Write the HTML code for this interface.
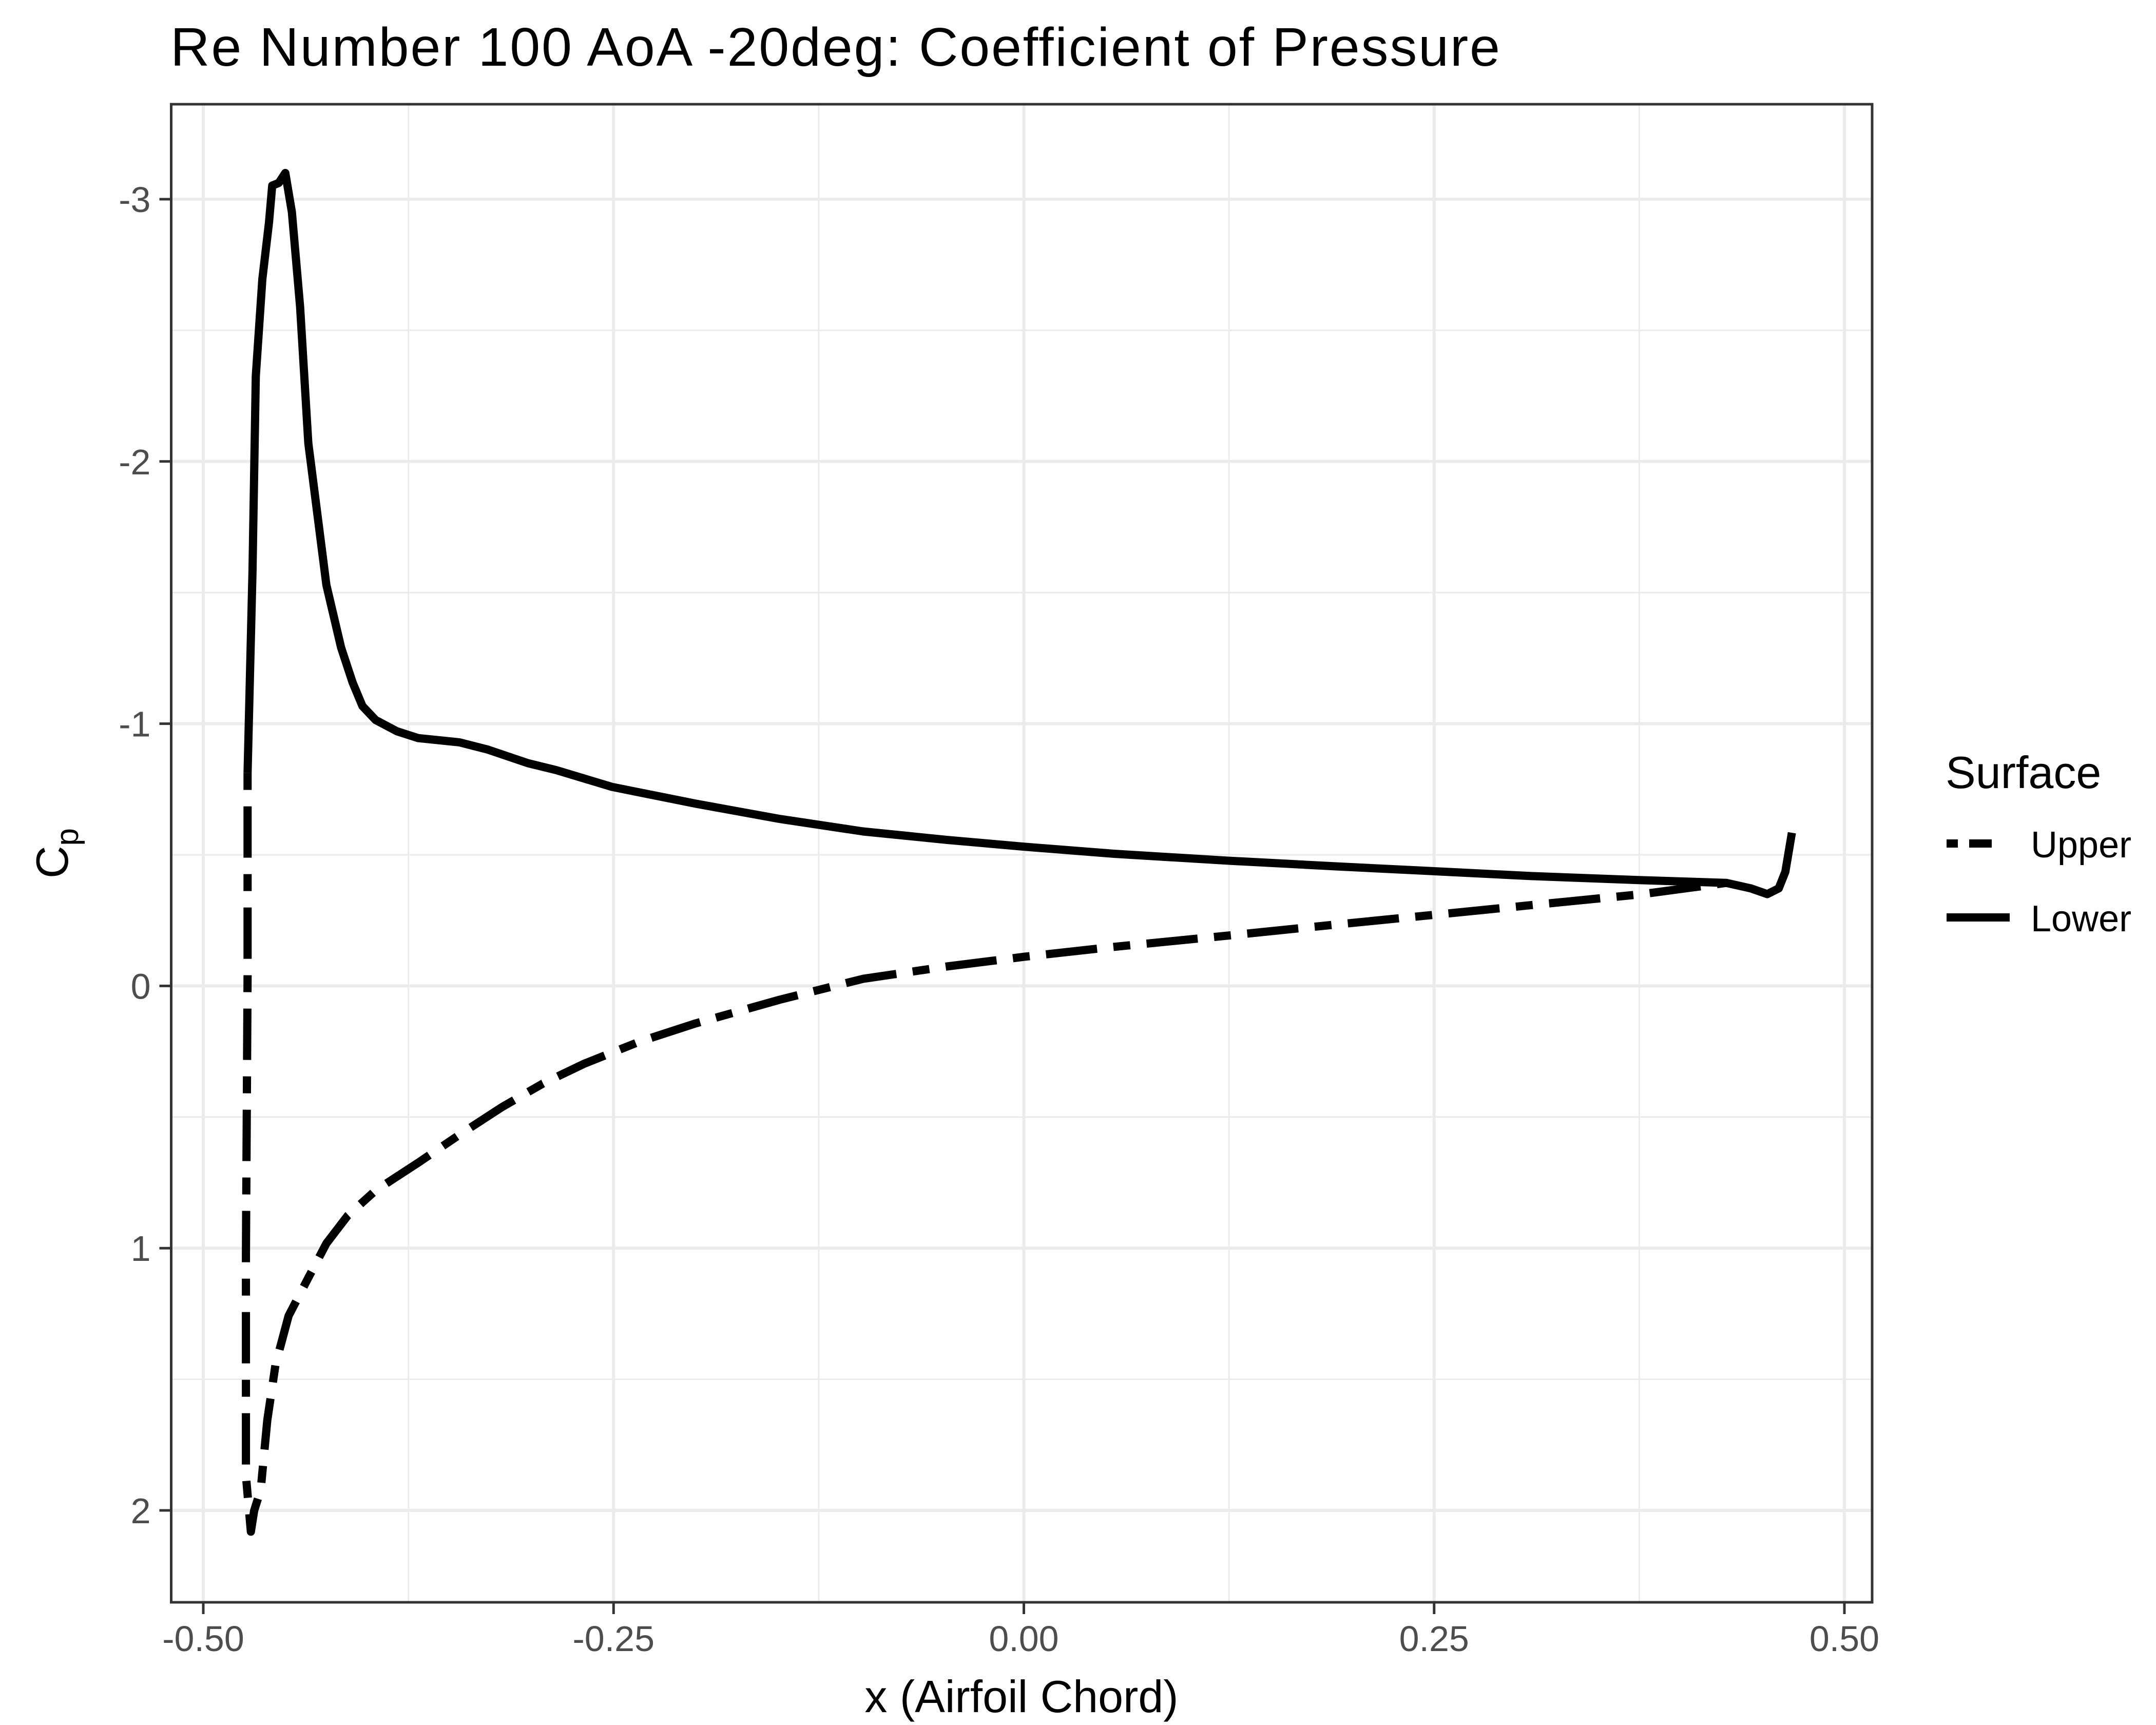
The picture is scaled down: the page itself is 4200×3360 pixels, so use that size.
<!DOCTYPE html>
<html><head><meta charset="utf-8"><style>
html,body{margin:0;padding:0;background:#fff}
svg{display:block}
text{font-family:"Liberation Sans",Arial,sans-serif}
</style></head><body>
<svg id="chart" width="4200" height="3360" viewBox="0 0 4200 3360" xmlns="http://www.w3.org/2000/svg">
<rect width="4200" height="3360" fill="#fff"/>
<g id="grid"></g>
<g id="series"></g>
<rect x="333.5" y="203" width="3313.5" height="2918" fill="none" stroke="#333" stroke-width="5"/>
<g id="axes"></g>
<text x="332" y="128" font-size="106" fill="#000" textLength="2590">Re Number 100 AoA -20deg: Coefficient of Pressure</text>
<text x="1990" y="3335" font-size="88" text-anchor="middle" fill="#000">x (Airfoil Chord)</text>
<text transform="translate(132,1662) rotate(-90)" font-size="88" text-anchor="middle" fill="#000">C<tspan font-size="62" dy="20">p</tspan></text>
<g>
<text x="3790" y="1535" font-size="88" fill="#000">Surface</text>
<line x1="3792" x2="3915" y1="1643" y2="1643" stroke="#000" stroke-width="16" stroke-dasharray="22 22 44 60"/>
<text x="3956" y="1670" font-size="72" fill="#000">Upper</text>
<line x1="3792" x2="3915" y1="1787" y2="1787" stroke="#000" stroke-width="16"/>
<text x="3956" y="1814" font-size="72" fill="#000">Lower</text>
</g>
</svg>
<script>
const xTicks = [-0.5, -0.25, 0, 0.25, 0.5];
const xTickLabels = ["-0.50", "-0.25", "0.00", "0.25", "0.50"];
const xMinor = [-0.375, -0.125, 0.125, 0.375];
const yTicks = [-3, -2, -1, 0, 1, 2];
const yTickLabels = ["-3", "-2", "-1", "0", "1", "2"];
const yMinor = [-2.5, -1.5, -0.5, 0.5, 1.5];
const lowerX = [-0.473,-0.470,-0.468,-0.464,-0.460,-0.458,-0.454,-0.450,-0.446,-0.441,-0.436,-0.425,-0.416,-0.409,-0.403,-0.395,-0.382,-0.369,-0.344,-0.327,-0.302,-0.285,-0.251,-0.200,-0.149,-0.098,-0.047,0.000,0.055,0.123,0.190,0.258,0.309,0.377,0.428,0.443,0.453,0.460,0.464,0.468];
const lowerCp = [-0.812,-1.582,-2.325,-2.696,-2.909,-3.052,-3.062,-3.100,-2.951,-2.590,-2.070,-1.529,-1.290,-1.157,-1.067,-1.014,-0.971,-0.945,-0.929,-0.902,-0.849,-0.823,-0.759,-0.695,-0.637,-0.589,-0.557,-0.531,-0.504,-0.478,-0.456,-0.435,-0.419,-0.403,-0.393,-0.372,-0.350,-0.372,-0.435,-0.584];
const upperX = [-0.473,-0.473,-0.474,-0.474,-0.471,-0.469,-0.465,-0.461,-0.456,-0.448,-0.437,-0.425,-0.412,-0.395,-0.369,-0.344,-0.318,-0.293,-0.268,-0.234,-0.200,-0.149,-0.098,-0.047,0.000,0.055,0.123,0.190,0.258,0.309,0.377,0.428];
const upperCp = [-0.812,-0.042,1.019,1.868,2.081,2.001,1.921,1.656,1.444,1.258,1.125,0.982,0.876,0.780,0.674,0.568,0.462,0.372,0.297,0.212,0.143,0.053,-0.027,-0.074,-0.111,-0.149,-0.191,-0.234,-0.276,-0.308,-0.350,-0.393];

const NS = "http://www.w3.org/2000/svg";
const PL = 333.5, PR = 3647, PT = 203, PB = 3121;
function sx(v){ return 396 + (v + 0.5) * 3197; }
function sy(v){ return 388 + (v + 3) * 510.8; }
function mk(tag, attrs, parent){
  const e = document.createElementNS(NS, tag);
  for (const k in attrs) e.setAttribute(k, attrs[k]);
  parent.appendChild(e);
  return e;
}
const grid = document.getElementById('grid');
const axes = document.getElementById('axes');
xMinor.forEach(v => {
  const l = mk('line', {x1:sx(v), x2:sx(v), y1:PT, y2:PB, stroke:'#EBEBEB', 'stroke-width':3}, grid);
  
  
});
yMinor.forEach(v => {
  const l = mk('line', {x1:PL, x2:PR, y1:sy(v), y2:sy(v), stroke:'#EBEBEB', 'stroke-width':3}, grid);
  
  
});
xTicks.forEach((v, i) => {
  const l = mk('line', {x1:sx(v), x2:sx(v), y1:PT, y2:PB, stroke:'#EBEBEB', 'stroke-width':6}, grid);
  
  
  const t = mk('line', {x1:sx(v), x2:sx(v), y1:PB, y2:PB + 23, stroke:'#333', 'stroke-width':5}, axes);
  
  
  const tx = mk('text', {x:sx(v), y:PB + 95, 'font-size':70, 'text-anchor':'middle', fill:'#4D4D4D'}, axes);
  tx.textContent = xTickLabels[i];
  
  
});
yTicks.forEach((v, i) => {
  const l = mk('line', {x1:PL, x2:PR, y1:sy(v), y2:sy(v), stroke:'#EBEBEB', 'stroke-width':6}, grid);
  
  
  const t = mk('line', {x1:PL - 23, x2:PL, y1:sy(v), y2:sy(v), stroke:'#333', 'stroke-width':5}, axes);
  
  
  const tx = mk('text', {x:PL - 40, y:sy(v) + 25, 'font-size':70, 'text-anchor':'end', fill:'#4D4D4D'}, axes);
  tx.textContent = yTickLabels[i];
  
  
});
const series = document.getElementById('series');
function path(xs, ys){ return xs.map((x, i) => (i ? 'L' : 'M') + sx(x).toFixed(1) + ',' + sy(ys[i]).toFixed(1)).join(''); }
const up = mk('path', {d:path(upperX, upperCp), fill:'none', stroke:'#000', 'stroke-width':16, 'stroke-linejoin':'round', 'stroke-dasharray':'33 32 100 32'}, series);


const lo = mk('path', {d:path(lowerX, lowerCp), fill:'none', stroke:'#000', 'stroke-width':16, 'stroke-linejoin':'round'}, series);


</script>
</body></html>
